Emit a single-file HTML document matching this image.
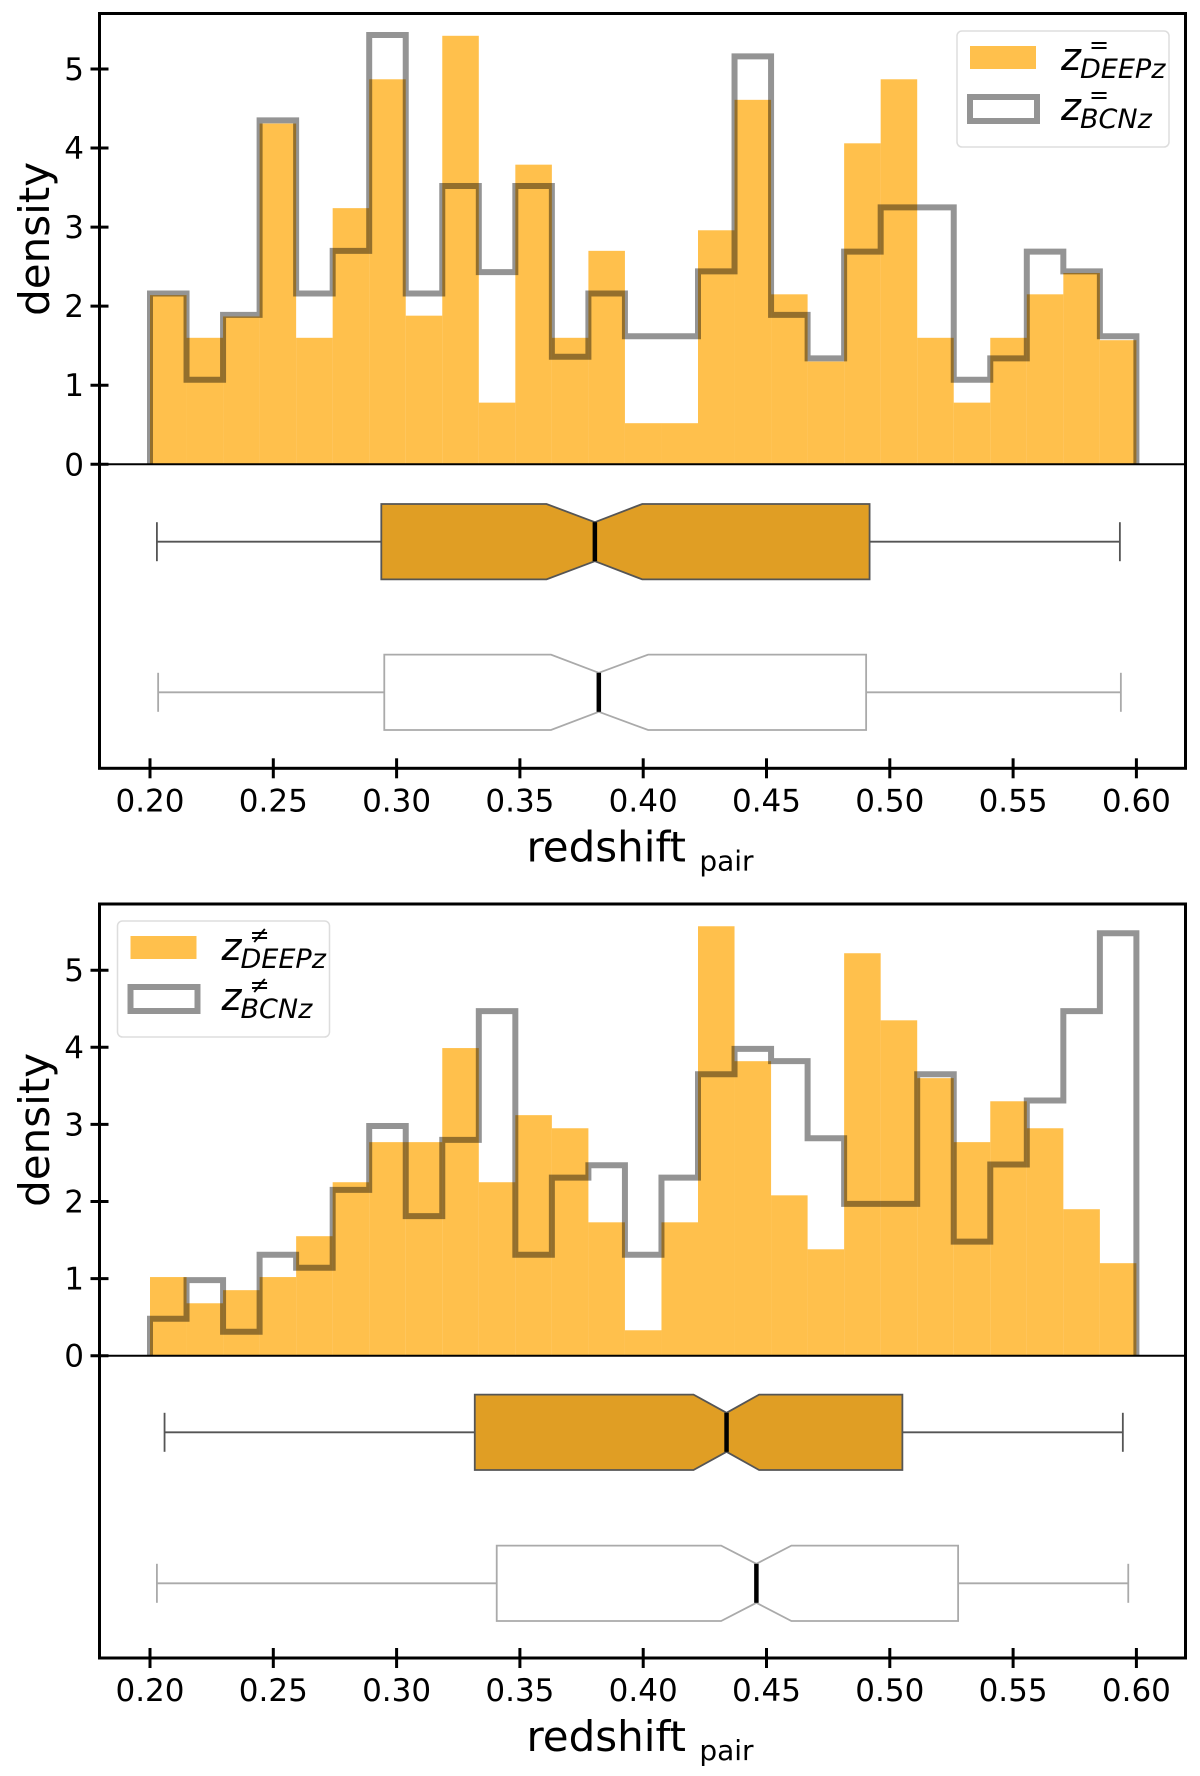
<!DOCTYPE html>
<html><head><meta charset="utf-8"><style>
html,body{margin:0;padding:0;background:#fff}
svg{display:block}
text{font-family:"DejaVu Sans","Liberation Sans",sans-serif}
</style></head><body>
<svg id="chart" width="1200" height="1776" viewBox="0 0 1200 1776" xmlns="http://www.w3.org/2000/svg"></svg>
<script>
// ---- data ----
const binStart = 0.2, binEnd = 0.6, binCount = 27;
const xTicks = [0.20,0.25,0.30,0.35,0.40,0.45,0.50,0.55,0.60];
const xTickLabels = ["0.20","0.25","0.30","0.35","0.40","0.45","0.50","0.55","0.60"];
const yTicks = [0,1,2,3,4,5];
const topDeep = [2.14,1.60,1.87,4.31,1.60,3.24,4.87,1.88,5.42,0.78,3.79,1.60,2.70,0.52,0.52,2.96,4.61,2.15,1.30,4.06,4.87,1.60,0.78,1.60,2.15,2.42,1.57];
const topBcn  = [2.16,1.07,1.89,4.35,2.16,2.70,5.43,2.16,3.52,2.43,3.52,1.36,2.16,1.62,1.62,2.44,5.16,1.89,1.34,2.69,3.25,3.25,1.07,1.34,2.69,2.44,1.62];
const botDeep = [1.02,0.68,0.85,1.02,1.55,2.25,2.77,2.77,3.99,2.25,3.12,2.95,1.73,0.33,1.73,5.57,3.82,2.08,1.38,5.22,4.35,3.60,2.77,3.30,2.95,1.90,1.20];
const botBcn  = [0.48,0.98,0.31,1.31,1.14,2.15,2.98,1.81,2.80,4.47,1.31,2.31,2.47,1.31,2.31,3.65,3.98,3.82,2.82,1.97,1.97,3.65,1.48,2.48,3.31,4.47,5.48];
// box stats: [whiskerLow, q1, notchLow, median, notchHigh, q3, whiskerHigh]
const topBoxDeep = [0.2028,0.2938,0.3608,0.3804,0.3996,0.4918,0.5933];
const topBoxBcn  = [0.2033,0.2950,0.3626,0.3820,0.4020,0.4904,0.5937];
const botBoxDeep = [0.2059,0.3317,0.4204,0.4338,0.4470,0.5051,0.5945];
const botBoxBcn  = [0.2028,0.3406,0.4316,0.4459,0.4601,0.5277,0.5967];

const NS = "http://www.w3.org/2000/svg";
const svg = document.getElementById('chart');
function mk(tag, attrs, parent){
  const e = document.createElementNS(NS, tag);
  for (const k in attrs) e.setAttribute(k, attrs[k]);
  (parent||svg).appendChild(e); return e;
}
const X0 = 150, XS = 2466;
function x(v){ return X0 + (v - 0.2) * XS; }
const FL = 99.5, FR = 1185.5;

function panel(cfg){
  const g = mk('g', {});
  
  
  const y = v => cfg.base - v * cfg.unit;
  const bw = (binEnd - binStart) / binCount;
  cfg.deep.forEach((v, i) => {
    const r = mk('rect', {x: x(binStart + i*bw), y: y(v), width: x(binStart+(i+1)*bw)-x(binStart+i*bw), height: cfg.base - y(v), fill: '#ffa500', 'fill-opacity': 0.7}, g);
    
    
  });
  let d = 'M' + x(binStart) + ',' + cfg.base;
  cfg.bcn.forEach((v, i) => {
    d += ' L' + x(binStart+i*bw) + ',' + y(v) + ' L' + x(binStart+(i+1)*bw) + ',' + y(v);
  });
  d += ' L' + x(binEnd) + ',' + cfg.base;
  const st = mk('path', {d: d, fill: 'none', stroke: '#000', 'stroke-opacity': 0.42, 'stroke-width': 6, 'stroke-linejoin': 'miter'}, g);
  
  
  function box(stats, cy, fill, edge, nm){
    const bg = mk('g', {}, g);
    
    
    const h = 37.7, n = 19.5, c = 19.5;
    mk('line', {x1: x(stats[0]), x2: x(stats[1]), y1: cy, y2: cy, stroke: edge, 'stroke-width': 1.8}, bg);
    mk('line', {x1: x(stats[5]), x2: x(stats[6]), y1: cy, y2: cy, stroke: edge, 'stroke-width': 1.8}, bg);
    mk('line', {x1: x(stats[0]), x2: x(stats[0]), y1: cy-c, y2: cy+c, stroke: edge, 'stroke-width': 1.8}, bg);
    mk('line', {x1: x(stats[6]), x2: x(stats[6]), y1: cy-c, y2: cy+c, stroke: edge, 'stroke-width': 1.8}, bg);
    const p = [[x(stats[1]),cy-h],[x(stats[2]),cy-h],[x(stats[3]),cy-n],[x(stats[4]),cy-h],[x(stats[5]),cy-h],
               [x(stats[5]),cy+h],[x(stats[4]),cy+h],[x(stats[3]),cy+n],[x(stats[2]),cy+h],[x(stats[1]),cy+h]];
    mk('polygon', {points: p.map(q=>q.join(',')).join(' '), fill: fill, stroke: edge, 'stroke-width': 1.8}, bg);
    mk('line', {x1: x(stats[3]), x2: x(stats[3]), y1: cy-n, y2: cy+n, stroke: '#000', 'stroke-width': 4.5}, bg);
  }
  box(cfg.boxDeep, cfg.cy1, '#e09e24', '#555', 'deepz-boxplot');
  box(cfg.boxBcn, cfg.cy2, '#fff', '#aaa', 'bcnz-boxplot');
  mk('rect', {x: FL, y: cfg.top, width: FR-FL, height: cfg.bottom-cfg.top, fill: 'none', stroke: '#000', 'stroke-width': 3}, g);
  mk('line', {x1: FL, x2: FR, y1: cfg.base, y2: cfg.base, stroke: '#000', 'stroke-width': 2}, g);
  yTicks.forEach(t => {
    mk('line', {x1: FL-9, x2: FL+9, y1: y(t), y2: y(t), stroke: '#000', 'stroke-width': 3}, g);
    const tx = mk('text', {x: 84, y: y(t)+11, 'text-anchor': 'end', 'font-size': 31}, g);
    tx.textContent = String(t);
    
    
  });
  xTicks.forEach((t, i) => {
    mk('line', {x1: x(t), x2: x(t), y1: cfg.bottom-10, y2: cfg.bottom+10, stroke: '#000', 'stroke-width': 3}, g);
    const tx = mk('text', {x: x(t), y: cfg.bottom+43, 'text-anchor': 'middle', 'font-size': 31}, g);
    tx.textContent = xTickLabels[i];
    
    
  });
  const yl = mk('text', {x: 0, y: 0, transform: 'translate(49,' + ((cfg.top+cfg.base)/2) + ') rotate(-90)', 'text-anchor': 'middle', 'font-size': 42}, g);
  yl.textContent = 'density';
  
  
  const xl = mk('text', {x: 640, y: cfg.bottom+93, 'text-anchor': 'middle', 'font-size': 42}, g);
  
  
  xl.appendChild(document.createTextNode('redshift '));
  const sub = mk('tspan', {'font-size': 28, dy: 9}, xl); sub.textContent = 'pair';
  const L = cfg.leg;
  const lg = mk('g', {}, g);
  
  
  mk('rect', {x: L.x, y: L.y, width: 212, height: 116, rx: 5, fill: '#fff', 'fill-opacity': 0.8, stroke: '#ddd', 'stroke-width': 1.5}, lg);
  mk('rect', {x: L.x+13, y: L.y+15, width: 66, height: 23, fill: '#ffa500', 'fill-opacity': 0.7}, lg);
  mk('rect', {x: L.x+13, y: L.y+66, width: 67, height: 24, fill: '#fff', stroke: '#000', 'stroke-opacity': 0.42, 'stroke-width': 6}, lg);
  [['DEEPz', 39],['BCNz', 89]].forEach(([s, by]) => {
    const t = mk('text', {x: L.x+104, y: L.y+by, 'font-size': 38, 'font-style': 'italic'}, lg);
    t.textContent = 'z';
    
    
    const sp = mk('text', {x: L.x+132, y: L.y+by-17, 'font-size': 24}, lg); sp.textContent = cfg.sym;
    const sb = mk('text', {x: L.x+123, y: L.y+by+8, 'font-size': 27, 'font-style': 'italic'}, lg); sb.textContent = s;
  });
}

panel({name: 'top-panel', top: 13.5, bottom: 768.3, base: 464.3, unit: 79.06, deep: topDeep, bcn: topBcn,
  boxDeep: topBoxDeep, boxBcn: topBoxBcn, cy1: 541.7, cy2: 692.3, leg: {x: 957, y: 31}, sym: '='});
panel({name: 'bottom-panel', top: 904, bottom: 1658, base: 1355.7, unit: 77.1, deep: botDeep, bcn: botBcn,
  boxDeep: botBoxDeep, boxBcn: botBoxBcn, cy1: 1432.3, cy2: 1583.3, leg: {x: 117.5, y: 921}, sym: '≠'});
</script>
</body></html>
